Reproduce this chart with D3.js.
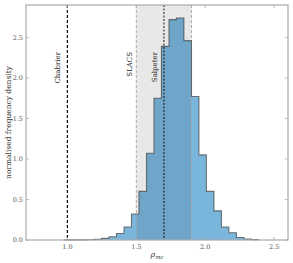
<!DOCTYPE html>
<html>
<head>
<meta charset="utf-8">
<script src="https://cdn.jsdelivr.net/npm/d3@7"></script>
<style>
  body { margin: 0; background: #fff; }
  text { font-family: "DejaVu Serif", "Liberation Serif", serif; }
</style>
</head>
<body>
<script>
// histogram bins (left edges) and heights
var binEdges = [0.976, 1.030, 1.085, 1.139, 1.193, 1.248, 1.302, 1.356, 1.411, 1.465,
                1.519, 1.574, 1.628, 1.682, 1.737, 1.791, 1.845, 1.900, 1.954, 2.008,
                2.063, 2.117, 2.171, 2.226, 2.280, 2.334, 2.388];
var density = [0.001, 0.001, 0.002, 0.004, 0.01, 0.02, 0.04, 0.08, 0.16, 0.32,
               0.60, 1.07, 1.75, 2.39, 2.72, 2.74, 2.46, 1.77, 1.05, 0.60,
               0.36, 0.16, 0.09, 0.03, 0.012, 0.005];
var xTicks = [1.0, 1.5, 2.0, 2.5];
var yTicks = [0.0, 0.5, 1.0, 1.5, 2.0, 2.5];
var slacs = [1.5, 1.9];
var refLines = [{name: "Chabrier", x: 1.0}, {name: "SLACS", x: 1.5}, {name: "Salpeter", x: 1.7}];

var width = 293, height = 263;
var m = {left: 26, right: 5, top: 5, bottom: 23};

var svg = d3.select("body").append("svg")
    .attr("width", width)
    .attr("height", height);

var x = d3.scaleLinear().domain([0.7, 2.6]).range([m.left, width - m.right]);
var y = d3.scaleLinear().domain([0, 2.9]).range([height - m.bottom, m.top]);

var g = svg.append("g");

// histogram as a step shape
var pts = [[binEdges[0], 0]];
density.forEach(function(d, i) {
    pts.push([binEdges[i], d]);
    pts.push([binEdges[i + 1], d]);
});
pts.push([binEdges[binEdges.length - 1], 0]);

var line = d3.line().x(d => x(d[0])).y(d => y(d[1]));

g.append("path")
    .attr("d", line(pts) + "Z")
    .attr("fill", "#7ab6dc")
    .attr("stroke", "none");

// SLACS band (darkens what lies under it)
g.append("rect")
    .attr("x", x(slacs[0]))
    .attr("y", y(2.9))
    .attr("width", x(slacs[1]) - x(slacs[0]))
    .attr("height", y(0) - y(2.9))
    .attr("fill", "#000")
    .attr("fill-opacity", 0.09);

g.selectAll(".slacs")
    .data(slacs)
    .enter()
    .append("line")
        .attr("x1", d => x(d)).attr("x2", d => x(d))
        .attr("y1", y(2.9)).attr("y2", y(0))
        .attr("stroke", "#aaa")
        .attr("stroke-width", 1)
        .attr("stroke-dasharray", "3,2");

// histogram outline
g.append("path")
    .attr("d", line(pts))
    .attr("fill", "none")
    .attr("stroke", "#4a4a4a")
    .attr("stroke-opacity", 0.75)
    .attr("stroke-width", 1.1);

// Chabrier
g.append("line")
    .attr("x1", x(1.0)).attr("x2", x(1.0))
    .attr("y1", y(2.9)).attr("y2", y(0))
    .attr("stroke", "#000")
    .attr("stroke-width", 1.2)
    .attr("stroke-dasharray", "3,2");

// Salpeter
g.append("line")
    .attr("x1", x(1.7)).attr("x2", x(1.7))
    .attr("y1", y(2.9)).attr("y2", y(0))
    .attr("stroke", "#000")
    .attr("stroke-opacity", 0.5)
    .attr("stroke-width", 1.8)
    .attr("stroke-dasharray", "2,1.5");

// labels
var labelX = {"Chabrier": 1.0 - 0.078, "SLACS": 1.5 - 0.05, "Salpeter": 1.7 - 0.075};
g.selectAll(".lab")
    .data(refLines)
    .enter()
    .append("text")
        .attr("transform", d => "translate(" + (x(labelX[d.name]) + 3) + "," + y(2.32) + ") rotate(-90)")
        .attr("text-anchor", "end")
        .attr("font-size", 7)
        .attr("fill", "#222")
        .text(d => d.name);

// frame
svg.append("rect")
    .attr("x", x(0.7)).attr("y", y(2.9))
    .attr("width", x(2.6) - x(0.7))
    .attr("height", y(0) - y(2.9))
    .attr("fill", "none")
    .attr("stroke", "#aaa")
    .attr("stroke-width", 1.2);

// ticks (inside, on all sides)
var tk = svg.append("g").attr("stroke", "#aaa").attr("stroke-width", 0.8);
xTicks.forEach(function(t) {
    tk.append("line").attr("x1", x(t)).attr("x2", x(t)).attr("y1", y(0)).attr("y2", y(0) - 3);
    tk.append("line").attr("x1", x(t)).attr("x2", x(t)).attr("y1", y(2.9)).attr("y2", y(2.9) + 3);
});
yTicks.forEach(function(t) {
    tk.append("line").attr("x1", x(0.7)).attr("x2", x(0.7) + 3).attr("y1", y(t)).attr("y2", y(t));
    tk.append("line").attr("x1", x(2.6)).attr("x2", x(2.6) - 3).attr("y1", y(t)).attr("y2", y(t));
});

svg.selectAll(".xt")
    .data(xTicks)
    .enter()
    .append("text")
        .attr("x", d => x(d))
        .attr("y", y(0) + 9)
        .attr("text-anchor", "middle")
        .attr("font-size", 6.5)
        .attr("fill", "#555")
        .text(d => d3.format(".1f")(d));

svg.selectAll(".yt")
    .data(yTicks)
    .enter()
    .append("text")
        .attr("x", x(0.7) - 3)
        .attr("y", d => y(d) + 2.3)
        .attr("text-anchor", "end")
        .attr("font-size", 6.5)
        .attr("fill", "#555")
        .text(d => d3.format(".1f")(d));

// axis titles
svg.append("text")
    .attr("transform", "translate(11," + ((y(0) + y(2.9)) / 2) + ") rotate(-90)")
    .attr("text-anchor", "middle")
    .attr("font-size", 7.5)
    .attr("fill", "#333")
    .text("normalised frequency density");

var xl = svg.append("text")
    .attr("x", (x(0.7) + x(2.6)) / 2)
    .attr("y", height - 6)
    .attr("text-anchor", "middle")
    .attr("font-size", 8)
    .attr("fill", "#333");
xl.append("tspan").attr("font-style", "italic").text("ρ");
xl.append("tspan").attr("font-size", 5.5).attr("font-style", "italic").attr("dy", 1.5).text("mc");
</script>
</body>
</html>
